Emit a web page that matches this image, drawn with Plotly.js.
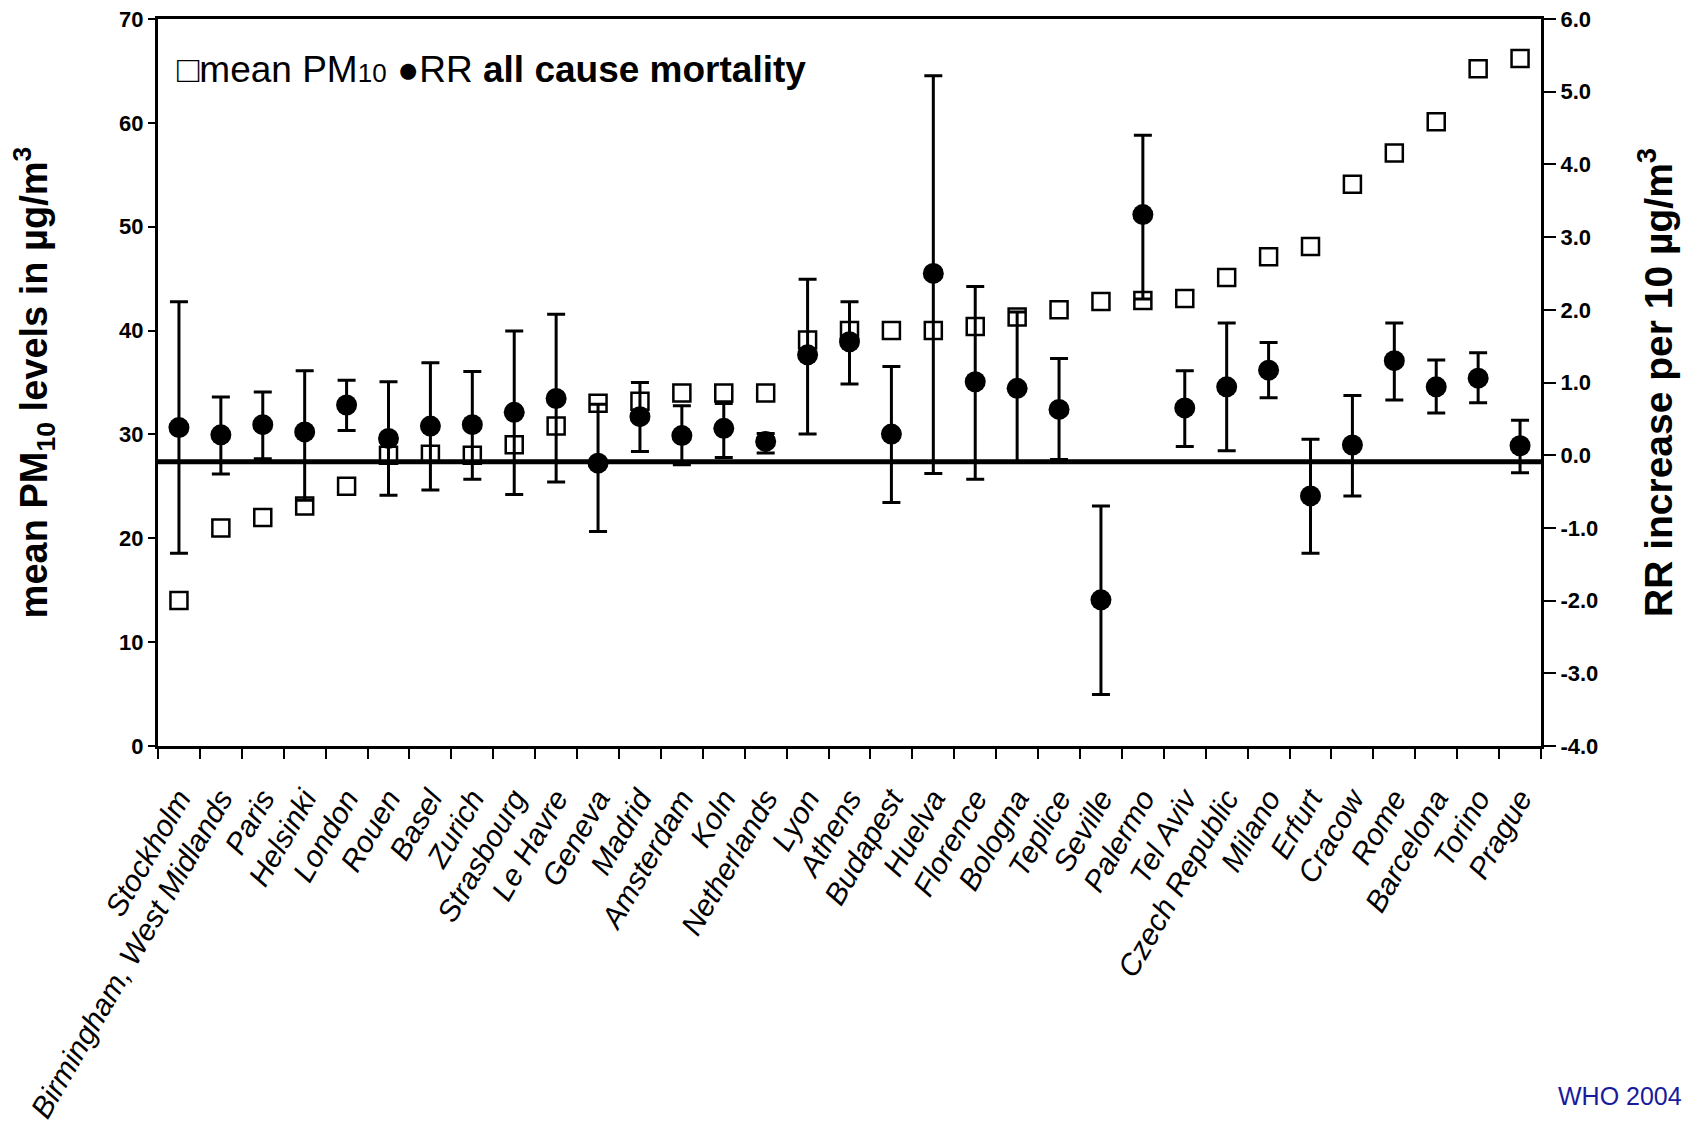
<!DOCTYPE html>
<html>
<head>
<meta charset="utf-8">
<script src="https://cdn.plot.ly/plotly-3.0.1.min.js"></script>
<style>html,body{margin:0;padding:0;background:#fff;}#chart{width:1687px;height:1134px;}</style>
</head>
<body>
<div id="chart"></div>
<script>
const cities = ["Stockholm", "Birmingham, West Midlands", "Paris", "Helsinki", "London", "Rouen", "Basel", "Zurich",
  "Strasbourg", "Le Havre", "Geneva", "Madrid", "Amsterdam", "Koln", "Netherlands", "Lyon", "Athens", "Budapest",
  "Huelva", "Florence", "Bologna", "Teplice", "Seville", "Palermo", "Tel Aviv", "Czech Republic", "Milano", "Erfurt",
  "Cracow", "Rome", "Barcelona", "Torino", "Prague"];
const pm10 = [14, 21, 22, 23.1, 25, 28, 28.1, 28, 29, 30.8, 33, 33.2, 34, 34, 34, 39.1, 40, 40,
  40, 40.4, 41.3, 42, 42.8, 42.9, 43.1, 45.1, 47.1, 48.1, 54.1, 57.1, 60.1, 65.2, 66.2];
const rr = [0.38, 0.28, 0.42, 0.32, 0.69, 0.23, 0.40, 0.42, 0.59, 0.78, -0.11, 0.53, 0.27, 0.37, 0.19, 1.38, 1.56, 0.29,
  2.50, 1.01, 0.92, 0.63, -1.99, 3.31, 0.65, 0.94, 1.17, -0.56, 0.14, 1.30, 0.94, 1.06, 0.13];
const rrLow = [-1.35, -0.26, -0.05, -0.62, 0.34, -0.55, -0.48, -0.33, -0.54, -0.37, -1.05, 0.05, -0.13, -0.03, 0.03, 0.29, 0.98, -0.65,
  -0.25, -0.33, -0.10, -0.06, -3.29, 2.15, 0.12, 0.06, 0.79, -1.35, -0.56, 0.76, 0.58, 0.72, -0.24];
const rrHigh = [2.11, 0.80, 0.87, 1.16, 1.03, 1.01, 1.27, 1.15, 1.71, 1.94, 0.70, 1.00, 0.68, 0.71, 0.30, 2.42, 2.11, 1.22,
  5.22, 2.32, 1.97, 1.33, -0.70, 4.40, 1.16, 1.82, 1.55, 0.22, 0.82, 1.82, 1.31, 1.41, 0.48];
const pm10Ticks = [0, 10, 20, 30, 40, 50, 60, 70];
const rrTicks = [-4, -3, -2, -1, 0, 1, 2, 3, 4, 5, 6];
const rrReference = -0.09;

const FONT = "Liberation Sans, Arial, Helvetica, sans-serif";

const traceRR = {
  x: cities, y: rr, yaxis: 'y2', type: 'scatter', mode: 'markers', name: 'RR',
  marker: {symbol: 'circle', size: 21, color: '#000'},
  error_y: {type: 'data', symmetric: false,
    array: rrHigh.map((h, i) => h - rr[i]),
    arrayminus: rrLow.map((l, i) => rr[i] - l),
    color: '#000', thickness: 3, width: 9},
  showlegend: false, cliponaxis: false
};
const tracePM = {
  x: cities, y: pm10, yaxis: 'y', type: 'scatter', mode: 'markers', name: 'mean PM10',
  marker: {symbol: 'square-open', size: 17, color: '#000', line: {width: 2.5, color: '#000'}},
  showlegend: false, cliponaxis: false
};

const layout = {
  width: 1687, height: 1134,
  margin: {l: 158, r: 146, t: 19, b: 388},
  paper_bgcolor: '#fff', plot_bgcolor: '#fff',
  font: {family: FONT, color: '#000'},
  showlegend: false,
  xaxis: {
    type: 'category', range: [-0.5, cities.length - 0.5], tickson: 'boundaries', ticks: 'outside', ticklen: 10, tickwidth: 2, tickcolor: '#000',
    showline: true, linewidth: 3, linecolor: '#000', mirror: true, showgrid: false, zeroline: false,
    tickangle: -60, tickfont: {family: FONT, size: 30, style: 'italic', color: '#000'},
    ticklabelstandoff: 20, automargin: false
  },
  yaxis: {
    range: [0, 70], tickvals: pm10Ticks, ticks: 'outside', ticklen: 7, tickwidth: 2, tickcolor: '#000',
    showline: true, linewidth: 3, linecolor: '#000', showgrid: false, zeroline: false,
    tickfont: {family: FONT, size: 22, weight: 'bold', color: '#000'},
    title: {text: 'mean PM<sub>10</sub> levels in µg/m<sup>3</sup>', font: {family: FONT, size: 38, weight: 'bold', color: '#000'}, standoff: 60},
    automargin: false
  },
  yaxis2: {
    range: [-4, 6], tickvals: rrTicks, ticktext: rrTicks.map(v => v.toFixed(1)), overlaying: 'y', side: 'right',
    ticks: 'outside', ticklen: 12, tickwidth: 2, tickcolor: '#000',
    showline: true, linewidth: 3, linecolor: '#000', showgrid: false, zeroline: false,
    tickfont: {family: FONT, size: 22, weight: 'bold', color: '#000'},
    title: {text: 'RR increase per 10 µg/m<sup>3</sup>', font: {family: FONT, size: 39, weight: 'bold', color: '#000'}, standoff: 48},
    automargin: false
  },
  shapes: [{
    type: 'line', xref: 'paper', x0: 0, x1: 1, yref: 'y2', y0: rrReference, y1: rrReference,
    line: {color: '#000', width: 5}, layer: 'below'
  }],
  annotations: [
    {xref: 'paper', yref: 'paper', x: 0.012, y: 0.93, xanchor: 'left', yanchor: 'middle', showarrow: false,
     text: '□mean PM<span style="font-size:26px">10</span> ●RR <b>all cause mortality</b>', font: {family: FONT, size: 37, color: '#000'}},
    {xref: 'paper', yref: 'paper', x: 1.1034, y: -0.481, xanchor: 'right', yanchor: 'middle', showarrow: false,
     text: 'WHO 2004', font: {family: FONT, size: 25, color: '#1a1a9c'}}
  ]
};

Plotly.newPlot('chart', [tracePM, traceRR], layout, {staticPlot: true, displayModeBar: false});
</script>
</body>
</html>
